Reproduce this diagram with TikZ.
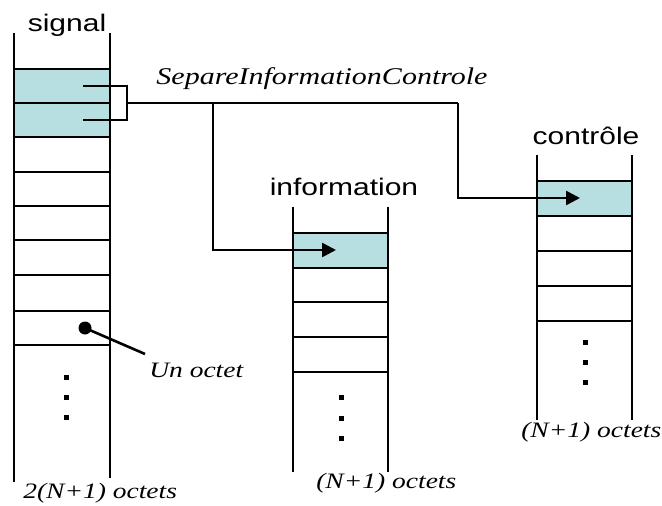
\documentclass[tikz,border=0pt]{standalone}
\usepackage{fontspec}
\setmainfont{Liberation Serif}
\setsansfont{Liberation Sans}
\usetikzlibrary{arrows.meta}
\definecolor{cellfill}{RGB}{183,222,225}
% labels are set a little wider than their natural width
\newcommand{\wide}[1]{\scalebox{1.25}[1]{#1}}
\begin{document}
\begin{tikzpicture}[x=1pt,y=-1pt,line width=2.6pt,
  title/.style={font=\sffamily\fontsize{24}{24}\selectfont,inner sep=0pt,anchor=base},
  note/.style={font=\itshape\fontsize{22}{22}\selectfont,inner sep=0pt,anchor=base west},
  cell/.style={draw,fill=cellfill,minimum width=96pt,minimum height=34pt,inner sep=0pt},
  dotsq/.style={fill=black,minimum size=5pt,inner sep=0pt},
  flow/.style={-{Triangle[length=14pt,width=14pt]}},
  wire/.style={line cap=butt}]
\useasboundingbox (0,0) rectangle (662,506);

% ---- signal column
\draw (14,33) -- (14,482);
\draw (110,33) -- (110,478);
\node[cell] (s1) at (62,86) {};
\node[cell] (s2) at (62,120) {};
\foreach \y in {172,206,240,275,311,345} \draw (14,\y) -- (110,\y);
\foreach \y in {377,397,417} \node[dotsq] at (66,\y) {};
\node[title] (signal) at (67,31) {\wide{signal}};
\node[note] (total) at (22,498) {\wide{2(N+1) octets}};

% one byte, pointed out
\node[circle,fill=black,minimum size=13pt,inner sep=0pt] (byte) at (85,328) {};
\coordinate (bytetag) at (145,354);
\draw (byte.center) -- (bytetag);
\node[note] (octet) at (148,377) {\wide{Un octet}};

% ---- information column
\draw (293,207) -- (293,472);
\draw (388,207) -- (388,472);
\node[cell,minimum width=95pt,minimum height=35pt] (i1) at (340.5,250.5) {};
\foreach \y in {302,337,372} \draw (293,\y) -- (388,\y);
\foreach \y in {397,418,438} \node[dotsq] at (341,\y) {};
\node[title] (info) at (344,195) {\wide{information}};
\node[note] (infolen) at (315,488) {\wide{(N+1) octets}};

% ---- controle column
\draw (537,155) -- (537,420);
\draw (632,155) -- (632,420);
\node[cell,minimum width=95pt,minimum height=35pt] (c1) at (584.5,198.5) {};
\foreach \y in {251,286,321} \draw (537,\y) -- (632,\y);
\foreach \y in {342,362,382} \node[dotsq] at (585,\y) {};
\node[title] (ctrl) at (586,144) {\wide{contrôle}};
\node[note] (ctrllen) at (520,437) {\wide{(N+1) octets}};

% ---- separation routine
\node[note,font=\itshape\fontsize{24}{24}\selectfont,anchor=base] (sep) at (322,84) {\wide{SepareInformationControle}};
\coordinate (b1) at (83,86);
\coordinate (b2) at (83,120);
\coordinate (bk) at (127,103);
\coordinate (split) at (213,103);
\coordinate (turn) at (458,103);
\coordinate (itip) at (336,250);
\coordinate (ctip) at (580,198);
\draw[wire] (b1) -- (bk |- b1) -- (bk |- b2) -- (b2);
\draw[wire] (bk) -- (turn);
\draw[flow] (split) |- (itip);
\draw[flow] (turn) |- (ctip);
\end{tikzpicture}
\end{document}
